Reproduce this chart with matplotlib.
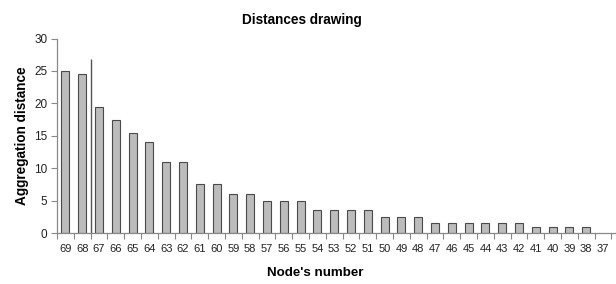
import matplotlib
matplotlib.use("Agg")
import matplotlib.pyplot as plt
import numpy as np

plt.rcParams['font.family'] = ['Liberation Sans', 'DejaVu Sans']

nodes = ['69', '68', '67', '66', '65', '64', '63', '62', '61', '60', '59', '58', '57',
         '56', '55', '54', '53', '52', '51', '50', '49', '48', '47', '46', '45', '44',
         '43', '42', '41', '40', '39', '38', '37']
distances = [25, 24.5, 19.5, 17.5, 15.5, 14, 11, 11, 7.5, 7.5, 6, 6, 5,
             5, 5, 3.5, 3.5, 3.5, 3.5, 2.5, 2.5, 2.5, 1.5, 1.5, 1.5, 1.5,
             1.5, 1.5, 1, 1, 1, 1, 0]
yticks = [0, 5, 10, 15, 20, 25, 30]

W, H = 616, 284
fig = plt.figure(figsize=(W / 100, H / 100), dpi=100)
fig.patch.set_facecolor('white')

left = 57 / W
bottom = (H - 233) / H
height = (233 - 38.5) / H
cat_w = 16.8
ncat = len(nodes) + 1
ax = fig.add_axes([left, bottom, ncat * cat_w / W, height])

x = np.arange(len(nodes))
vals = np.array(distances)
mask = vals > 0
ax.bar(x[mask], vals[mask], width=0.47, color='#bcbcbc', edgecolor='#4a4a4a', linewidth=0.8)

ax.set_xlim(-0.5, ncat - 0.5)
ax.set_ylim(0, 30)
ax.set_yticks(yticks)
ax.set_yticklabels([str(v) for v in yticks], fontsize=8.5, color='#222222')
ax.set_xticks(x)
ax.set_xticklabels(nodes, fontsize=8, color='#222222')
ax.tick_params(axis='x', length=0, pad=8)
ax.tick_params(axis='y', length=4, width=0.8, color='#888888', direction='out', pad=3)
ax.set_xticks(np.arange(-0.5, ncat, 1), minor=True)
ax.tick_params(axis='x', which='minor', length=4, width=0.8, color='#888888', direction='out')

for s in ['top', 'right']:
    ax.spines[s].set_visible(False)
for s in ['left', 'bottom']:
    ax.spines[s].set_color('#888888')
    ax.spines[s].set_linewidth(0.9)

# stray marker line between 68 and 67
ax.vlines(1.5, 0, 26.8, color='#555555', linewidth=1.0)

fig.text(302 / W, 1 - 20 / H, 'Distances drawing', ha='center', va='center',
         fontsize=9.8, fontweight='bold')
fig.text(22 / W, 1 - 136 / H, 'Aggregation distance', ha='center', va='center',
         rotation=90, fontsize=9.8, fontweight='bold')
fig.text(315 / W, 1 - 273 / H, "Node's number", ha='center', va='center',
         fontsize=9.6, fontweight='bold')

fig.savefig('out.png', dpi=100)
